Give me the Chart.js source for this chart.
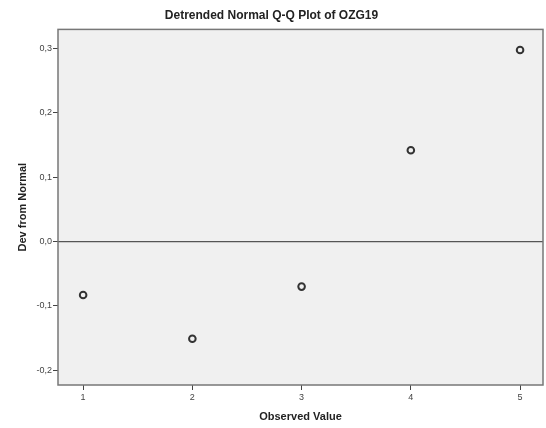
<!DOCTYPE html>
<html>
<head>
<meta charset="utf-8">
<script src="https://cdn.jsdelivr.net/npm/chart.js@4.4.1/dist/chart.umd.min.js"></script>
<style>
  html, body { margin:0; padding:0; background:#fff; }
  #wrap { width:546px; height:428px; }
  canvas { display:block; }
</style>
</head>
<body>
<div id="wrap"><canvas id="qq" width="546" height="428"></canvas></div>
<script>
// observed values and their deviation from normal
const observed = [1, 2, 3, 4, 5];
const deviation = [-0.083, -0.151, -0.070, 0.142, 0.298];
const xTicks = [1, 2, 3, 4, 5];
const yTicks = [-0.2, -0.1, 0.0, 0.1, 0.2, 0.3];

const fmt = v => v.toFixed(1).replace('.', ',').replace('-0,0', '0,0');

// grey plot background, frame and the zero line
const frame = {
  id: 'frame',
  beforeDatasetsDraw(chart) {
    const { ctx, chartArea: a, scales } = chart;
    ctx.save();
    ctx.fillStyle = '#f0f0f0';
    ctx.fillRect(a.left, a.top, a.right - a.left, a.bottom - a.top);
    const y0 = scales.y.getPixelForValue(0);
    ctx.strokeStyle = '#555';
    ctx.lineWidth = 1.2;
    ctx.beginPath();
    ctx.moveTo(a.left, y0);
    ctx.lineTo(a.right, y0);
    ctx.stroke();
    ctx.strokeStyle = '#777';
    ctx.lineWidth = 1.5;
    ctx.strokeRect(a.left, a.top, a.right - a.left, a.bottom - a.top);
    ctx.restore();
  }
};

new Chart(document.getElementById('qq'), {
  type: 'scatter',
  data: {
    datasets: [{
      data: observed.map((x, i) => ({ x, y: deviation[i] })),
      pointRadius: 3.3,
      pointBorderWidth: 2,
      pointBorderColor: '#333',
      pointBackgroundColor: 'rgba(0,0,0,0)'
    }]
  },
  options: {
    responsive: false,
    animation: false,
    layout: { autoPadding: false, padding: { left: 0, right: 3, top: 0, bottom: 0 } },
    plugins: {
      legend: { display: false },
      tooltip: { enabled: false },
      title: {
        display: true,
        text: 'Detrended Normal Q-Q Plot of OZG19',
        color: '#222',
        font: { family: 'Liberation Sans, Arial, sans-serif', size: 12, weight: 'bold' },
        padding: { top: 8, bottom: 7 }
      }
    },
    scales: {
      x: {
        type: 'linear',
        min: 0.77, max: 5.21,
        afterBuildTicks: s => { s.ticks = xTicks.map(v => ({ value: v })); },
        afterFit: s => { s.height = 43; },
        grid: { drawOnChartArea: false, drawTicks: true, tickLength: 5, color: '#444' },
        border: { display: false },
        ticks: { color: '#444', font: { family: 'Liberation Sans, Arial, sans-serif', size: 9 }, padding: 2 },
        title: {
          display: true, text: 'Observed Value', color: '#222',
          font: { family: 'Liberation Sans, Arial, sans-serif', size: 11, weight: 'bold' },
          padding: { top: 4 }
        }
      },
      y: {
        type: 'linear',
        min: -0.223, max: 0.33,
        afterBuildTicks: s => { s.ticks = yTicks.map(v => ({ value: v })); },
        afterFit: s => { s.width = 58; },
        grid: { drawOnChartArea: false, drawTicks: true, tickLength: 5, color: '#444' },
        border: { display: false },
        ticks: { color: '#444', font: { family: 'Liberation Sans, Arial, sans-serif', size: 9 }, padding: 1, callback: v => fmt(v) },
        title: {
          display: true, text: 'Dev from Normal', color: '#222',
          font: { family: 'Liberation Sans, Arial, sans-serif', size: 11, weight: 'bold' },
          padding: { top: 16, bottom: 4 }
        }
      }
    }
  },
  plugins: [frame]
});
</script>
</body>
</html>
